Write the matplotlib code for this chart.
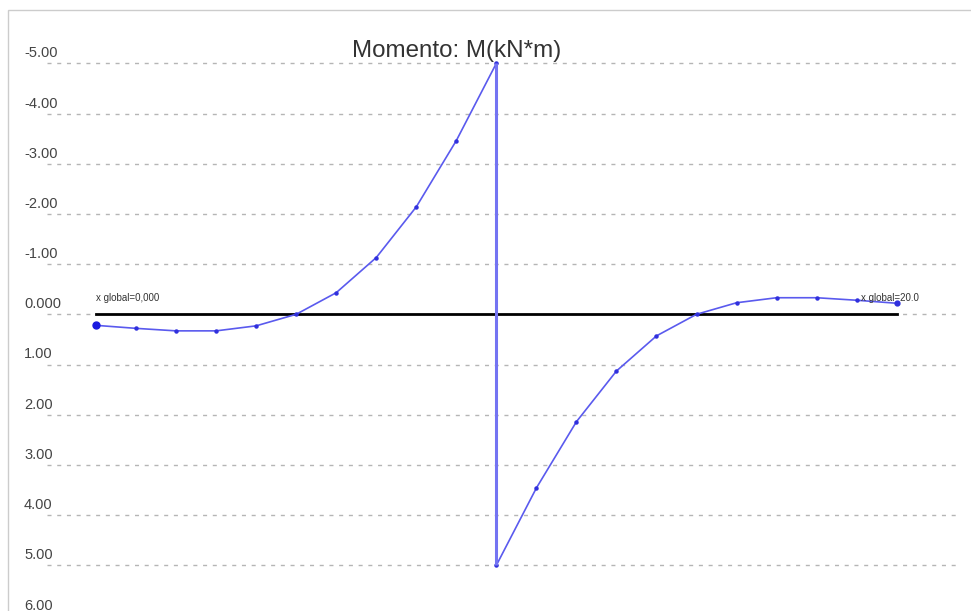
import matplotlib.pyplot as plt
from matplotlib.patches import Rectangle

plt.rcParams['font.family'] = ['Liberation Sans', 'DejaVu Sans']

# bending moment along the beam, sampled every 1 m (jump at the midspan)
x_left = [0, 1, 2, 3, 4, 5, 6, 7, 8, 9, 10]
m_left = [0.22, 0.28, 0.33, 0.33, 0.23, 0.0, -0.43, -1.13, -2.14, -3.46, -5.0]
x_right = [10, 11, 12, 13, 14, 15, 16, 17, 18, 19, 20]
m_right = [5.0, 3.46, 2.14, 1.13, 0.43, 0.0, -0.23, -0.33, -0.33, -0.28, -0.22]

y_ticks = [-5, -4, -3, -2, -1, 0, 1, 2, 3, 4, 5, 6]
y_labels = ['-5.00', '-4.00', '-3.00', '-2.00', '-1.00', '0.000',
            '1.00', '2.00', '3.00', '4.00', '5.00', '6.00']

W, H = 971, 611
fig = plt.figure(figsize=(W / 100, H / 100), dpi=100)
fig.patch.set_facecolor('white')

# outer frame of the widget
fig.patches.append(Rectangle((8 / W, -0.1), 1.2, 1.1 - 10 / H, transform=fig.transFigure,
                             fill=False, edgecolor='#cccccc', linewidth=1))

# axes area spans the dashed grid lines; px scale: 40.035 px/m, 50.2 px/kNm
gx0, gx1 = 47, 957
ax = fig.add_axes([gx0 / W, 0, (gx1 - gx0) / W, 1])
sx, sy = 40.035, 50.2
xlo, xhi = -(96 - gx0) / sx, (gx1 - 96) / sx
ax.set_xlim(xlo, xhi)
ax.set_ylim((H - 314.3) / sy, -314.3 / sy)
ax.axis('off')

# dashed horizontal grid (clipped to the axes)
ax.hlines(y_ticks, xlo, xhi, color='#b5b5b5', linewidth=1, linestyle=(0, (2.9, 4.1)), zorder=1)

for v, lab in zip(y_ticks, y_labels):
    ax.annotate(lab, xy=(24 / W, v), xycoords=('figure fraction', 'data'),
                xytext=(0, 10), textcoords='offset pixels',
                ha='left', va='center', fontsize=10.5, color='#444444',
                annotation_clip=False)

# beam axis
ax.plot([x_left[0], x_right[-1]], [0, 0], color='black', linewidth=2, zorder=3)

# moment diagram
blue = '#5a5aee'
ax.plot(x_left, m_left, color=blue, linewidth=1.2, marker='o', markersize=2.2,
        markerfacecolor='#3030dd', markeredgecolor='#3030dd', zorder=4)
ax.plot(x_right, m_right, color=blue, linewidth=1.2, marker='o', markersize=2.2,
        markerfacecolor='#3030dd', markeredgecolor='#3030dd', zorder=4)
ax.vlines(x_left[-1], m_left[-1], m_right[0], color='#7474f2', linewidth=2.2, zorder=4)
ax.plot([x_left[0]], [m_left[0]], 'o', color='#1a1ae0', markersize=5, zorder=5)
ax.plot([x_right[-1]], [m_right[-1]], 'o', color='#3030dd', markersize=3.5, zorder=5)

ax.annotate('x global=0,000', xy=(x_left[0], 0), xytext=(0, 16), textcoords='offset pixels',
            ha='left', va='center', fontsize=7, color='#333333', zorder=6)
ax.annotate('x global=20.0', xy=(x_right[-1], 0), xytext=(-36, 16), textcoords='offset pixels',
            ha='left', va='center', fontsize=7, color='#333333', zorder=6)

fig.text(457 / W, 1 - 56.7 / H, 'Momento: M(kN*m)', ha='center', va='baseline',
         fontsize=17.4, color='#333333')

fig.savefig('out.png', dpi=100)
